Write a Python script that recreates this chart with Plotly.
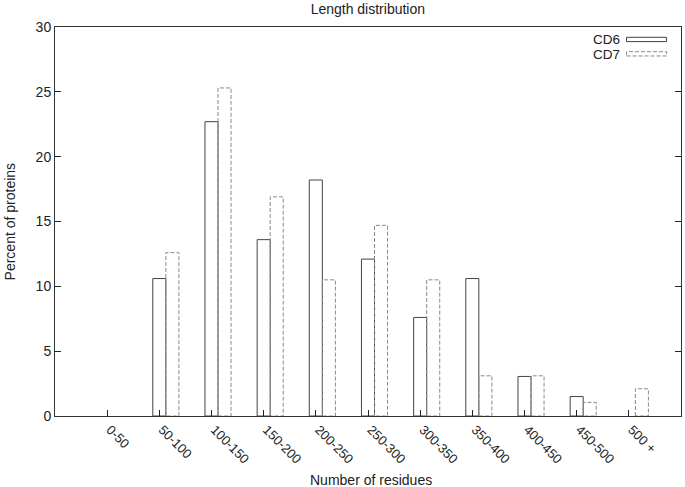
import plotly.graph_objects as go

categories = ["0-50", "50-100", "100-150", "150-200", "200-250", "250-300",
              "300-350", "350-400", "400-450", "450-500", "500 +"]
cd6 = [0, 10.6, 22.7, 13.6, 18.2, 12.1, 7.6, 10.6, 3.05, 1.5, 0]
cd7 = [0, 12.6, 25.3, 16.9, 10.5, 14.7, 10.5, 3.1, 3.1, 1.05, 2.1]

BAR_W = 0.25
DASH = "4px,2px"


def outline(values, offset):
    xs, ys = [], []
    for i, v in enumerate(values):
        if v <= 0:
            continue
        c = i + offset
        x0, x1 = c - BAR_W / 2, c + BAR_W / 2
        xs += [x0, x0, x1, x1, x0, None]
        ys += [0, v, v, 0, 0, None]
    return xs, ys


fig = go.Figure()
x6, y6 = outline(cd6, 0)
x7, y7 = outline(cd7, BAR_W)
fig.add_trace(go.Scatter(x=x6, y=y6, mode="lines", name="CD6",
                         line=dict(color="#444444", width=1), showlegend=False,
                         hoverinfo="skip"))
fig.add_trace(go.Scatter(x=x7, y=y7, mode="lines", name="CD7",
                         line=dict(color="#8a8a8a", width=1, dash=DASH),
                         showlegend=False, hoverinfo="skip"))

font = "Liberation Sans, Arial, Helvetica, sans-serif"
FS = 14
TXT = "#222"

# custom legend (gnuplot style: text then sample box)
legend_items = [("CD6", dict(color="#444444", width=1), 0.968),
                ("CD7", dict(color="#8a8a8a", width=1, dash=DASH), 0.931)]
for name, ln, yy in legend_items:
    fig.add_annotation(text=name, xref="paper", yref="paper", x=0.904, y=yy,
                       xanchor="right", yanchor="middle", showarrow=False,
                       height=12, borderpad=0,
                       font=dict(family=font, size=13.5, color=TXT))
    fig.add_shape(type="rect", xref="paper", yref="paper",
                  x0=0.913, x1=0.977, y0=yy - 0.0055, y1=yy + 0.0055,
                  line=ln, fillcolor="rgba(0,0,0,0)")

# axis titles
fig.add_annotation(text="Number of residues", xref="paper", yref="paper",
                   x=0.505, y=-0.165, xanchor="center", yanchor="middle",
                   showarrow=False, font=dict(family=font, size=FS, color=TXT))
fig.add_annotation(text="Percent of proteins", xref="paper", yref="paper",
                   x=-0.072, y=0.50, xanchor="center", yanchor="middle",
                   textangle=-90, showarrow=False,
                   font=dict(family=font, size=FS, color=TXT))

fig.update_layout(
    width=685, height=487,
    margin=dict(l=55, r=4, t=27, b=71),
    paper_bgcolor="white", plot_bgcolor="white",
    title=dict(text="Length distribution", x=0.537, xanchor="center",
               y=0.982, yanchor="middle",
               font=dict(family=font, size=FS, color=TXT)),
    font=dict(family=font, size=FS, color=TXT),
    showlegend=False,
)
fig.update_xaxes(
    range=[-1, 11], tickmode="array", tickvals=list(range(len(categories))),
    ticktext=categories, tickangle=45, ticks="inside", ticklen=6,
    tickcolor="#222", showline=True, linecolor="#333", linewidth=1,
    mirror=True, showgrid=False, zeroline=False, automargin=False,
    ticklabelshift=3,
    tickfont=dict(family=font, size=13, color=TXT),
)
fig.update_yaxes(
    range=[0, 30], dtick=5, ticks="inside", ticklen=6, tickcolor="#222",
    showline=True, linecolor="#333", linewidth=1, mirror="ticks",
    showgrid=False, zeroline=False, automargin=False,
    tickfont=dict(family=font, size=FS, color=TXT),
)

fig.write_html(
    "out.html",
    config={"displayModeBar": False},
    post_script="document.body.style.margin='0';document.body.style.overflow='hidden';",
)
